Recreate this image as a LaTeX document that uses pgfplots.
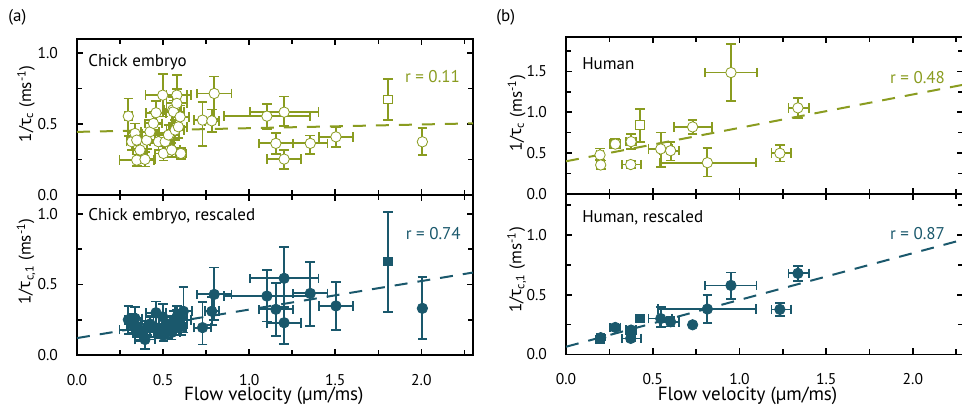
\documentclass[border=0pt]{standalone}
\usepackage{fontspec}
\setmainfont{PT Sans}
\newfontfamily\grk{Noto Sans}
\usepackage{pgfplots}
\usepackage{pgfplotstable}
\pgfplotsset{compat=1.18}
\definecolor{cgreen}{RGB}{138,156,32}
\definecolor{cteal}{RGB}{26,88,108}

% chick embryo, 1/tau_c
\pgfplotstableread{
x y exm exp eym eyp
0.298 0.556 0.02 0.02 0.14 0.125
0.318 0.376 0.03 0.03 0.06 0.06
0.337 0.434 0.04 0.04 0.07 0.07
0.347 0.387 0.05 0.05 0.06 0.06
0.347 0.246 0.10 0.10 0.04 0.04
0.366 0.317 0.04 0.04 0.06 0.06
0.395 0.251 0.06 0.06 0.05 0.05
0.405 0.387 0.05 0.05 0.06 0.06
0.424 0.446 0.05 0.05 0.08 0.08
0.444 0.505 0.05 0.05 0.08 0.08
0.459 0.580 0.06 0.06 0.08 0.08
0.473 0.376 0.05 0.05 0.06 0.06
0.498 0.704 0.10 0.14 0.15 0.15
0.502 0.293 0.05 0.05 0.05 0.05
0.512 0.376 0.05 0.05 0.06 0.06
0.531 0.423 0.06 0.06 0.07 0.07
0.550 0.317 0.05 0.05 0.05 0.05
0.556 0.600 0.05 0.05 0.09 0.09
0.560 0.587 0.06 0.06 0.08 0.08
0.570 0.458 0.05 0.05 0.07 0.07
0.580 0.704 0.06 0.08 0.14 0.14
0.580 0.646 0.06 0.06 0.10 0.10
0.589 0.481 0.05 0.05 0.08 0.08
0.599 0.551 0.05 0.05 0.08 0.08
0.603 0.293 0.03 0.03 0.04 0.04
0.729 0.528 0.05 0.05 0.18 0.13
0.783 0.523 0.04 0.04 0.08 0.08
0.797 0.716 0.10 0.10 0.18 0.12
1.103 0.556 0.25 0.25 0.09 0.085
1.155 0.364 0.10 0.10 0.077 0.075
1.203 0.584 0.20 0.20 0.10 0.11
1.203 0.253 0.10 0.10 0.07 0.064
1.355 0.364 0.10 0.10 0.074 0.056
1.504 0.410 0.10 0.10 0.07 0.07
2.006 0.375 0.0 0.0 0.095 0.095
}\tabAtop
\pgfplotstableread{
x y exm exp eym eyp
1.806 0.676 0.0 0.0 0.146 0.144
}\tabAtopsq

% chick embryo, rescaled
\pgfplotstableread{
x y exm exp eym eyp
0.298 0.25 0.02 0.02 0.10 0.10
0.318 0.22 0.03 0.03 0.06 0.07
0.337 0.26 0.04 0.04 0.07 0.08
0.347 0.20 0.05 0.05 0.06 0.06
0.347 0.18 0.10 0.10 0.05 0.05
0.366 0.16 0.04 0.04 0.06 0.06
0.395 0.11 0.06 0.06 0.07 0.06
0.405 0.19 0.05 0.05 0.05 0.05
0.424 0.22 0.05 0.05 0.06 0.06
0.444 0.20 0.05 0.05 0.07 0.07
0.459 0.30 0.06 0.06 0.08 0.08
0.473 0.17 0.05 0.05 0.05 0.05
0.498 0.27 0.10 0.14 0.09 0.09
0.502 0.14 0.05 0.05 0.04 0.04
0.512 0.20 0.05 0.05 0.05 0.05
0.531 0.18 0.06 0.06 0.06 0.06
0.550 0.16 0.05 0.05 0.05 0.05
0.556 0.21 0.05 0.05 0.07 0.07
0.560 0.24 0.06 0.06 0.07 0.07
0.570 0.19 0.05 0.05 0.05 0.05
0.580 0.25 0.06 0.08 0.07 0.07
0.580 0.27 0.06 0.06 0.08 0.08
0.589 0.22 0.05 0.05 0.06 0.06
0.618 0.31 0.05 0.05 0.15 0.17
0.603 0.20 0.03 0.03 0.06 0.06
0.729 0.194 0.05 0.05 0.12 0.18
0.783 0.31 0.04 0.04 0.10 0.10
0.797 0.43 0.10 0.10 0.18 0.19
1.103 0.418 0.25 0.25 0.18 0.185
1.155 0.324 0.10 0.10 0.19 0.184
1.203 0.544 0.20 0.20 0.22 0.224
1.203 0.229 0.10 0.10 0.15 0.114
1.355 0.437 0.10 0.10 0.23 0.225
1.504 0.348 0.10 0.10 0.17 0.168
2.006 0.331 0.0 0.0 0.218 0.22
}\tabAbot
\pgfplotstableread{
x y exm exp eym eyp
1.806 0.662 0.0 0.0 0.355 0.35
}\tabAbotsq

% human, 1/tau_c
\pgfplotstableread{
x y exm exp eym eyp
0.951 1.485 0.151 0.149 0.345 0.345
1.337 1.053 0.054 0.062 0.12 0.12
0.730 0.820 0.108 0.111 0.09 0.085
0.375 0.640 0.03 0.03 0.09 0.09
0.284 0.610 0.03 0.03 0.05 0.06
0.196 0.477 0.02 0.02 0.06 0.08
0.200 0.355 0.02 0.02 0.045 0.055
0.373 0.360 0.05 0.06 0.04 0.04
0.546 0.551 0.071 0.063 0.217 0.20
0.603 0.530 0.061 0.048 0.12 0.11
0.815 0.383 0.273 0.28 0.17 0.18
1.233 0.498 0.048 0.062 0.10 0.10
}\tabBtop
\pgfplotstableread{
x y exm exp eym eyp
0.426 0.845 0.02 0.02 0.205 0.19
}\tabBtopsq

% human, rescaled
\pgfplotstableread{
x y exm exp eym eyp
0.951 0.578 0.151 0.147 0.117 0.109
1.337 0.679 0.054 0.062 0.062 0.064
1.233 0.377 0.048 0.062 0.053 0.056
0.815 0.380 0.283 0.28 0.115 0.12
0.730 0.248 0.0 0.0 0.0 0.0
0.603 0.273 0.061 0.048 0.04 0.04
0.546 0.300 0.071 0.063 0.07 0.10
0.375 0.204 0.03 0.03 0.03 0.03
0.373 0.134 0.05 0.06 0.02 0.02
0.284 0.226 0.03 0.03 0.02 0.02
0.200 0.140 0.02 0.02 0.02 0.02
}\tabBbot
\pgfplotstableread{
x y exm exp eym eyp
0.426 0.300 0.02 0.02 0.03 0.03
0.196 0.126 0.02 0.02 0.02 0.02
}\tabBbotsq

\tikzset{txt/.style={font=\fontsize{8.5}{10}\selectfont, inner sep=0pt},
  xlab/.style={font=\fontsize{9.5}{11}\selectfont, inner sep=0pt, anchor=base}}
\pgfplotsset{
  panel/.style={
    scale only axis, width=198pt,
    xmin=0, xmax=2.3,
    xtick={0,0.5,1,1.5,2}, minor xtick={0.25,0.75,1.25,1.75,2.25},
    tick align=inside, major tick length=3pt, minor tick length=2.5pt,
    axis line style={line width=0.9pt},
    every tick/.style={black, line width=0.8pt},
    tick label style={font=\fontsize{7.8}{9}\selectfont},
    xticklabel style={yshift=-6pt},
    yticklabel style={xshift=-6pt},
    /pgf/number format/assume math mode=true,
    xticklabel style={/pgf/number format/.cd, fixed, fixed zerofill, precision=1},
    yticklabel style={/pgf/number format/.cd, fixed, fixed zerofill, precision=1},
    label style={font=\fontsize{8.5}{10}\selectfont},
    clip=false,
  },
  pts/.style={only marks, color=#1, mark size=2.6pt,
    error bars/x dir=both, error bars/x explicit,
    error bars/y dir=both, error bars/y explicit,
    error bars/error bar style={line width=0.9pt, solid},
    error bars/error mark options={rotate=90, mark size=2.4pt, line width=0.9pt, solid}},
  fitline/.style={#1, line width=1pt, dash pattern=on 6.5pt off 5pt},
}

\begin{document}
\begin{tikzpicture}
\useasboundingbox (0,0) rectangle (481pt,-205pt);
\node[anchor=west, txt] at (4pt,-8.5pt) {(a)};
\node[anchor=west, txt] at (248pt,-8.5pt) {(b)};

% (a) top
\begin{axis}[panel, at={(38.5pt,-19.5pt)}, anchor=north west, height=78pt,
  ymin=0, ymax=1.1, ytick={0,0.5,1}, minor ytick={0.25,0.75},
  xticklabels={},
  ylabel={1/{\grk τ}\textsubscript{c} (ms\textsuperscript{-1})},
  ylabel style={at={(rel axis cs:0,0.585)}, anchor=center, yshift=25.5pt}]
\addplot[fitline=cgreen] coordinates {(0,0.445) (2.3,0.505)};
\addplot[pts=cgreen, mark=*, mark options={fill=white, solid}]
  table[x=x, y=y, x error minus=exm, x error plus=exp, y error minus=eym, y error plus=eyp] {\tabAtop};
\addplot[pts=cgreen, mark=square*, mark size=2.1pt, mark options={fill=white, solid}]
  table[x=x, y=y, x error minus=exm, x error plus=exp, y error minus=eym, y error plus=eyp] {\tabAtopsq};
\node[anchor=west, txt] at (rel axis cs:0.028,0.853) {Chick embryo};
\node[anchor=east, txt, text=cgreen] at (rel axis cs:0.968,0.758) {r = 0.11};
\end{axis}

% (a) bottom
\begin{axis}[panel, at={(38.5pt,-97.5pt)}, anchor=north west, height=80pt,
  ymin=0, ymax=1.135, ytick={0,0.5,1}, minor ytick={0.25,0.75},
  ylabel={1/{\grk τ}\textsubscript{c,1} (ms\textsuperscript{-1})},
  ylabel style={at={(rel axis cs:0,0.585)}, anchor=center, yshift=25.5pt}]
\addplot[fitline=cteal] coordinates {(0,0.12) (2.3,0.585)};
\addplot[pts=cteal, mark=*]
  table[x=x, y=y, x error minus=exm, x error plus=exp, y error minus=eym, y error plus=eyp] {\tabAbot};
\addplot[pts=cteal, mark=square*, mark size=2.1pt]
  table[x=x, y=y, x error minus=exm, x error plus=exp, y error minus=eym, y error plus=eyp] {\tabAbotsq};
\node[anchor=west, txt] at (rel axis cs:0.028,0.87) {Chick embryo, rescaled};
\node[anchor=east, txt, text=cteal] at (rel axis cs:0.970,0.756) {r = 0.74};
\node[xlab, yshift=-22.9pt] at (rel axis cs:0.497,0) {Flow velocity (µm/ms)};
\end{axis}

% (b) top
\begin{axis}[panel, at={(283pt,-18.5pt)}, anchor=north west, height=78.5pt,
  xmax=2.29, width=198.6pt,
  ymin=0, ymax=1.92, ytick={0,0.5,1,1.5}, minor ytick={0.25,0.75,1.25,1.75},
  xticklabels={},
  ylabel={1/{\grk τ}\textsubscript{c} (ms\textsuperscript{-1})},
  ylabel style={at={(rel axis cs:0,0.514)}, anchor=center, yshift=24.7pt}]
\addplot[fitline=cgreen] coordinates {(0,0.40) (2.3,1.34)};
\addplot[pts=cgreen, mark=*, mark options={fill=white, solid}]
  table[x=x, y=y, x error minus=exm, x error plus=exp, y error minus=eym, y error plus=eyp] {\tabBtop};
\addplot[pts=cgreen, mark=square*, mark size=2.1pt, mark options={fill=white, solid}]
  table[x=x, y=y, x error minus=exm, x error plus=exp, y error minus=eym, y error plus=eyp] {\tabBtopsq};
\node[anchor=west, txt] at (rel axis cs:0.04,0.832) {Human};
\node[anchor=east, txt, text=cgreen] at (rel axis cs:0.955,0.741) {r = 0.48};
\end{axis}

% (b) bottom
\begin{axis}[panel, at={(283pt,-97pt)}, anchor=north west, height=80.2pt,
  xmax=2.29, width=198.6pt,
  ymin=0, ymax=1.344, ytick={0,0.5,1}, minor ytick={0.25,0.75,1.25},
  ylabel={1/{\grk τ}\textsubscript{c,1} (ms\textsuperscript{-1})},
  ylabel style={at={(rel axis cs:0,0.527)}, anchor=center, yshift=24.7pt}]
\addplot[fitline=cteal] coordinates {(0,0.064) (2.3,0.966)};
\addplot[pts=cteal, mark=*]
  table[x=x, y=y, x error minus=exm, x error plus=exp, y error minus=eym, y error plus=eyp] {\tabBbot};
\addplot[pts=cteal, mark=square*, mark size=2.1pt]
  table[x=x, y=y, x error minus=exm, x error plus=exp, y error minus=eym, y error plus=eyp] {\tabBbotsq};
\node[anchor=west, txt] at (rel axis cs:0.04,0.85) {Human, rescaled};
\node[anchor=east, txt, text=cteal] at (rel axis cs:0.955,0.756) {r = 0.87};
\node[xlab, yshift=-23pt] at (rel axis cs:0.457,0) {Flow velocity (µm/ms)};
\end{axis}
\end{tikzpicture}
\end{document}
